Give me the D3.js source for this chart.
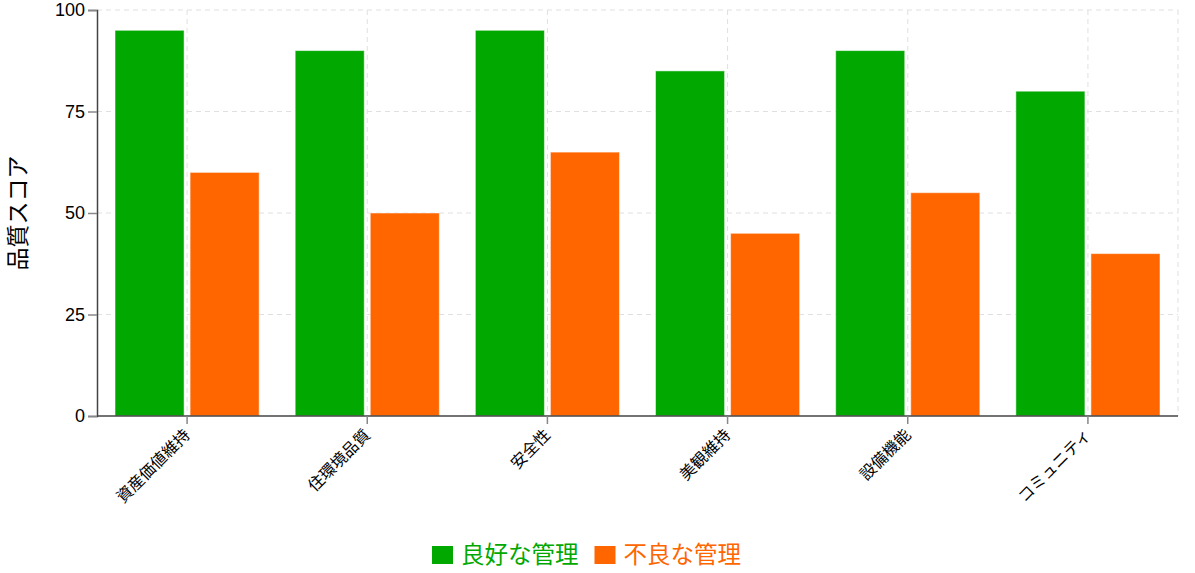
<!DOCTYPE html>
<html>
<head>
<meta charset="utf-8">
<script src="https://cdn.jsdelivr.net/npm/d3@7"></script>
<style>
  body { margin: 0; background: #fff; }
  text { font-family: "Liberation Sans", Arial, "Noto Sans CJK JP", sans-serif; }
</style>
</head>
<body>
<div id="chart"></div>
<script>
var categories = ['資産価値維持', '住環境品質', '安全性', '美観維持', '設備機能', 'コミュニティ'];
var seriesNames = ['良好な管理', '不良な管理'];
var goodValues = [95, 90, 95, 85, 90, 80];
var poorValues = [60, 50, 65, 45, 55, 40];
var yTicks = [0, 25, 50, 75, 100];
var colors = ['#00a800', '#ff6600'];

var width = 1195, height = 573;
var margin = {top: 10, right: 17, bottom: 157, left: 97};
var innerW = width - margin.left - margin.right,
    innerH = height - margin.top - margin.bottom;

var svg = d3.select('#chart').append('svg')
    .attr('width', width)
    .attr('height', height);

var g = svg.append('g')
    .attr('transform', 'translate(' + margin.left + ',' + margin.top + ')');

var x0 = d3.scaleBand()
    .domain(categories)
    .range([0, innerW])
    .paddingInner(0.2)
    .paddingOuter(0.1);

var x1 = d3.scaleBand()
    .domain(seriesNames)
    .range([0, x0.bandwidth()])
    .paddingInner(0.08)
    .paddingOuter(0);

var y = d3.scaleLinear()
    .domain([0, 100])
    .range([innerH, 0]);

var rows = categories.map(function(c, i){
  return {cat: c, values: [goodValues[i], poorValues[i]]};
});

// grid
var grid = g.append('g').attr('class', 'grid');
grid.selectAll('line.h')
  .data(yTicks.filter(function(d){ return d > 0; }))
  .enter().append('line')
  .attr('x1', 0).attr('x2', innerW)
  .attr('y1', function(d){ return y(d); })
  .attr('y2', function(d){ return y(d); })
  .attr('stroke', '#e0e0e0').attr('stroke-dasharray', '5,4');

grid.selectAll('line.v')
  .data(categories)
  .enter().append('line')
  .attr('x1', function(d){ return x0(d) + x0.bandwidth() / 2; })
  .attr('x2', function(d){ return x0(d) + x0.bandwidth() / 2; })
  .attr('y1', 0).attr('y2', innerH)
  .attr('stroke', '#e0e0e0').attr('stroke-dasharray', '5,4');

grid.append('line')
  .attr('x1', innerW).attr('x2', innerW)
  .attr('y1', 0).attr('y2', innerH)
  .attr('stroke', '#e0e0e0').attr('stroke-dasharray', '5,4');

// bars
var groups = g.selectAll('g.cat')
  .data(rows)
  .enter().append('g')
  .attr('transform', function(d){ return 'translate(' + x0(d.cat) + ',0)'; });

groups.selectAll('rect')
  .data(function(d){ return d.values.map(function(v, i){ return {s: seriesNames[i], v: v, i: i}; }); })
  .enter().append('rect')
  .attr('x', function(d){ return x1(d.s); })
  .attr('y', function(d){ return y(d.v); })
  .attr('width', x1.bandwidth())
  .attr('height', function(d){ return innerH - y(d.v); })
  .attr('fill', function(d){ return colors[d.i]; })
  .attr('stroke', 'rgba(255,255,255,0.5)')
  .attr('stroke-width', 1);

// axes
var yAxis = g.append('g')
  .call(d3.axisLeft(y).tickValues(yTicks).tickSize(9).tickPadding(3));
yAxis.select('.domain').attr('stroke', '#444').attr('stroke-width', 1.5);
yAxis.selectAll('.tick line').attr('stroke', '#888').attr('stroke-width', 1.5);
yAxis.selectAll('.tick text').attr('font-size', 18).attr('fill', '#000')
  .style('font-family', '"Liberation Sans", Arial, sans-serif');

var xAxis = g.append('g')
  .attr('transform', 'translate(0,' + innerH + ')')
  .call(d3.axisBottom(x0).tickSize(8).tickSizeOuter(0));
xAxis.select('.domain').attr('stroke', '#444').attr('stroke-width', 1.5)
  .attr('d', 'M0,0H' + innerW);
xAxis.selectAll('.tick line').attr('stroke', '#888').attr('stroke-width', 1.5);
xAxis.selectAll('.tick text')
  .attr('font-size', 16).attr('fill', '#000')
  .style('font-family', '"Noto Sans CJK JP", sans-serif')
  .attr('text-anchor', 'end')
  .attr('dy', '0.35em')
  .attr('transform', 'translate(0,16) rotate(-45)')
  .attr('x', 0).attr('y', 0);

// y title
svg.append('text')
  .attr('transform', 'translate(16,' + (margin.top + innerH / 2) + ') rotate(-90)')
  .attr('text-anchor', 'middle')
  .attr('dominant-baseline', 'central')
  .attr('font-size', 23)
  .style('font-family', '"Noto Sans CJK JP", sans-serif')
  .text('品質スコア');

// legend
var legend = svg.append('g').attr('transform', 'translate(432,555)');
var lx = 0;
seriesNames.forEach(function(name, i){
  var item = legend.append('g').attr('transform', 'translate(' + lx + ',0)');
  item.append('rect')
    .attr('x', 0).attr('y', -9)
    .attr('width', 21).attr('height', 18)
    .attr('fill', colors[i]);
  var t = item.append('text')
    .attr('x', 29).attr('y', 0).attr('dy', '0.35em')
    .attr('font-size', 23.5)
    .attr('fill', colors[i])
    .style('font-family', '"Noto Sans CJK JP", sans-serif')
    .text(name);
  lx += 29 + t.node().getComputedTextLength() + 16;
});
</script>
</body>
</html>
